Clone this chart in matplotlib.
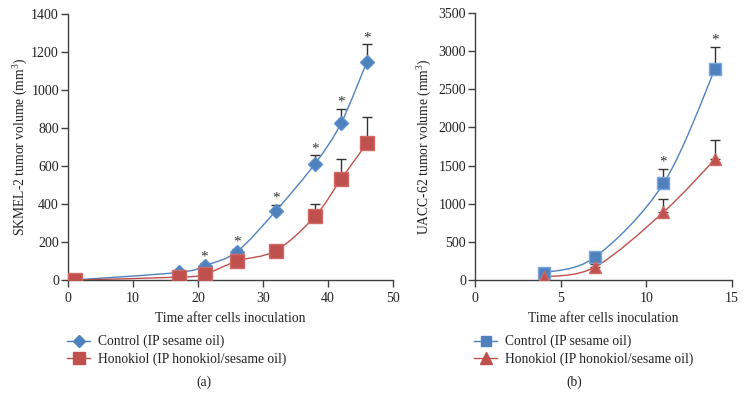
import matplotlib
matplotlib.use("Agg")
import matplotlib.pyplot as plt
from matplotlib.path import Path
from matplotlib.patches import PathPatch
from matplotlib.lines import Line2D
import numpy as np

plt.rcParams['font.family'] = ['Liberation Serif', 'DejaVu Serif']
plt.rcParams['mathtext.fontset'] = 'custom'
plt.rcParams['mathtext.rm'] = 'Liberation Serif'
plt.rcParams['mathtext.it'] = 'Liberation Serif:italic'

# ---- data panel (a) ----
a_days = [1, 17, 21, 26, 32, 38, 42, 46]
a_control = [0, 40, 75, 150, 365, 612, 825, 1150]
a_control_err = [0, 0, 12, 15, 30, 45, 75, 90]
a_honokiol = [0, 15, 30, 100, 155, 335, 530, 720]
a_honokiol_err = [0, 0, 0, 0, 0, 65, 105, 138]
a_star = [False, False, True, True, True, True, True, True]

# ---- data panel (b) ----
b_days = [4, 7, 11, 14]
b_control = [95, 300, 1265, 2760]
b_control_err = [0, 0, 195, 300]
b_honokiol = [40, 170, 890, 1580]
b_honokiol_err = [0, 45, 175, 250]
b_star = [False, False, True, True]

legend_labels = ['Control (IP sesame oil)', 'Honokiol (IP honokiol/sesame oil)']

BLUE = '#4F81BD'
RED = '#C0504D'
ERRC = '#333333'
AXC = '#404040'
TXT = '#222222'
FS = 9.8


def smooth_path(ax, xs, ys, color):
    xs = np.asarray(xs, float)
    ys = np.asarray(ys, float)
    pts = ax.transData.transform(np.column_stack([xs, ys]))
    n = len(pts)
    verts = [pts[0]]
    codes = [Path.MOVETO]
    for i in range(n - 1):
        p0 = pts[i - 1] if i > 0 else pts[i]
        p1 = pts[i]
        p2 = pts[i + 1]
        p3 = pts[i + 2] if i + 2 < n else pts[i + 1]
        c1 = p1 + (p2 - p0) / 6.0
        c2 = p2 - (p3 - p1) / 6.0
        verts += [c1, c2, p2]
        codes += [Path.CURVE4] * 3
    inv = ax.transData.inverted()
    verts = inv.transform(np.array(verts))
    patch = PathPatch(Path(verts, codes), facecolor='none', edgecolor=color,
                      lw=1.0, zorder=2)
    ax.add_patch(patch)


def draw_errs(ax, xs, ys, errs):
    for x, y, e in zip(xs, ys, errs):
        if e > 0:
            ax.errorbar([x], [y], yerr=[[0], [e]], fmt='none', ecolor=ERRC,
                        elinewidth=1.0, capsize=3.5, capthick=1.0, zorder=1)


def draw_stars(ax, xs, ys, errs, flags):
    for x, y, e, f in zip(xs, ys, errs, flags):
        if f:
            ax.annotate('*', (x, y + e), xytext=(0, 0), textcoords='offset points',
                        ha='center', va='bottom', fontsize=11, color='#333333')


def style_ax(ax):
    for s in ['top', 'right']:
        ax.spines[s].set_visible(False)
    for s in ['left', 'bottom']:
        ax.spines[s].set_color(AXC)
        ax.spines[s].set_linewidth(1.0)
    ax.tick_params(axis='both', direction='out', length=5, width=1.0,
                   color=AXC, labelsize=10, labelcolor=TXT)
    ax.tick_params(axis='y', pad=1.5)


W, H = 747, 408
fig = plt.figure(figsize=(W / 100, H / 100), dpi=100)

axA = fig.add_axes([68 / W, (H - 280) / H, 325 / W, 266 / H])
axB = fig.add_axes([475 / W, (H - 280) / H, 257 / W, 267 / H])

# Panel (a)
axA.set_xlim(0, 50)
axA.set_ylim(0, 1400)
axA.set_xticks(range(0, 51, 10))
axA.set_yticks(range(0, 1401, 200))
style_ax(axA)
fig.canvas.draw()
draw_errs(axA, a_days, a_control, a_control_err)
draw_errs(axA, a_days, a_honokiol, a_honokiol_err)
smooth_path(axA, a_days, a_control, BLUE)
smooth_path(axA, a_days, a_honokiol, RED)
axA.plot(a_days, a_control, ls='none', marker='D', ms=7.5, color=BLUE,
         mec='#5B8FD0', zorder=3)
axA.plot(a_days, a_honokiol, ls='none', marker='s', ms=9.5, color=RED,
         mec='#D06A66', zorder=3)
draw_stars(axA, a_days, a_control, a_control_err, a_star)
axA.set_xlabel('Time after cells inoculation', fontsize=FS, color=TXT, labelpad=5)
axA.set_ylabel('SKMEL-2 tumor volume (mm$^3$)', fontsize=FS, color=TXT)
axA.yaxis.set_label_coords(-0.118, 0.5)

# Panel (b)
axB.set_xlim(0, 15)
axB.set_ylim(0, 3500)
axB.set_xticks(range(0, 16, 5))
axB.set_yticks(range(0, 3501, 500))
style_ax(axB)
fig.canvas.draw()
draw_errs(axB, b_days, b_control, b_control_err)
draw_errs(axB, b_days, b_honokiol, b_honokiol_err)
smooth_path(axB, b_days, b_control, BLUE)
smooth_path(axB, b_days, b_honokiol, RED)
axB.plot(b_days, b_control, ls='none', marker='s', ms=8.5, color=BLUE,
         mec='#7AA6DA', zorder=3)
axB.plot(b_days, b_honokiol, ls='none', marker='^', ms=9, color=RED,
         mec='#D06A66', zorder=3)
draw_stars(axB, b_days, b_control, b_control_err, b_star)
axB.set_xlabel('Time after cells inoculation', fontsize=FS, color=TXT, labelpad=5)
axB.set_ylabel('UACC-62 tumor volume (mm$^3$)', fontsize=FS, color=TXT)
axB.yaxis.set_label_coords(-0.158, 0.5)

# Legends
hA = [Line2D([], [], color=BLUE, lw=1, marker='D', ms=6.5),
      Line2D([], [], color=RED, lw=1, marker='s', ms=8)]
hB = [Line2D([], [], color=BLUE, lw=1, marker='s', ms=7.5),
      Line2D([], [], color=RED, lw=1, marker='^', ms=8.5)]
for handles, x0 in [(hA, 67), (hB, 474)]:
    fig.legend(handles, legend_labels, loc='upper left',
               bbox_to_anchor=(x0 / W, 1 - 335 / H),
               frameon=False, borderpad=0, borderaxespad=0, handlelength=1.7,
               handletextpad=0.6, labelspacing=0.32, fontsize=FS, labelcolor=TXT)

fig.text(204 / W, 1 - 382 / H, '(a)', ha='center', va='center', fontsize=FS, color=TXT)
fig.text(574 / W, 1 - 382 / H, '(b)', ha='center', va='center', fontsize=FS, color=TXT)

fig.savefig('out.png', dpi=100, facecolor='white')
